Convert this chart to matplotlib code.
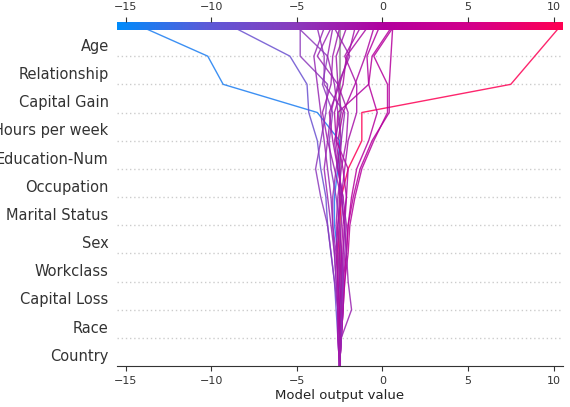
import matplotlib
matplotlib.use("Agg")
import matplotlib.pyplot as plt
import numpy as np
from matplotlib.colors import LinearSegmentedColormap, Normalize

features = ["Country", "Race", "Capital Loss", "Workclass", "Sex", "Marital Status",
            "Occupation", "Education-Num", "Hours per week", "Capital Gain",
            "Relationship", "Age"]
base_value = -2.5

# cumulative model output at each boundary, bottom (base) -> top (final)
paths = [
    [-2.5, -2.5, -2.4, -2.5, -2.6, -2.8, -2.8, -2.6, -2.5, -3.8, -9.3, -10.2, -13.9],
    [-2.5, -2.5, -2.5, -2.6, -2.6, -2.5, -2.4, -2.0, -1.2, -1.2, 7.5, 8.9, 10.3],
    [-2.5, -2.6, -2.7, -2.8, -3.0, -3.2, -3.3, -3.6, -3.8, -4.3, -4.4, -5.4, -8.6],
    [-2.5, -2.4, -2.3, -2.2, -2.1, -2.0, -1.7, -1.3, -0.6, 0.4, 0.4, 0.5, 0.6],
    [-2.5, -2.4, -2.3, -2.2, -2.0, -1.9, -1.6, -1.2, -0.5, 0.3, 0.3, -0.5, 0.6],
    [-2.5, -2.4, -2.3, -2.3, -2.1, -2.0, -1.8, -1.5, -0.8, -0.3, -0.8, -0.6, 0.5],
    [-2.5, -2.5, -2.4, -2.3, -2.3, -2.2, -2.1, -2.0, -2.7, -2.6, -0.8, -0.9, -0.2],
    [-2.5, -2.5, -2.6, -2.8, -3.0, -3.2, -3.6, -3.9, -3.6, -3.3, -3.2, -4.8, -4.8],
    [-2.5, -2.5, -2.6, -2.7, -2.8, -3.0, -3.2, -3.4, -3.2, -3.0, -2.6, -3.8, -3.0],
    [-2.5, -2.5, -2.5, -2.6, -2.7, -2.9, -2.9, -2.7, -2.4, -2.2, -3.4, -3.4, -3.8],
    [-2.5, -2.4, -2.3, -2.3, -2.2, -2.1, -2.3, -2.6, -2.8, -2.4, -2.6, -1.9, -2.8],
    [-2.5, -2.5, -2.4, -2.4, -2.5, -2.6, -2.4, -2.2, -2.0, -1.5, -1.5, -2.2, -1.3],
    [-2.5, -2.6, -2.6, -2.7, -2.8, -2.9, -3.0, -3.2, -3.4, -3.6, -3.8, -4.0, -3.4],
    [-2.5, -2.5, -2.5, -2.6, -2.6, -2.7, -2.6, -2.4, -2.1, -2.0, -2.6, -2.7, -2.1],
    [-2.5, -2.4, -2.4, -2.3, -2.4, -2.5, -2.7, -3.0, -3.1, -2.9, -3.5, -3.2, -4.9],
    [-2.5, -2.5, -2.6, -2.6, -2.7, -2.6, -2.5, -2.5, -2.7, -2.8, -2.3, -2.1, -0.9],
    [-2.5, -2.4, -1.8, -2.0, -2.1, -2.2, -2.4, -2.5, -2.4, -2.6, -2.8, -3.2, -2.9],
    [-2.5, -2.5, -2.5, -2.4, -2.4, -2.3, -2.1, -2.3, -2.6, -2.3, -1.6, -1.0, -0.5],
    [-2.5, -2.6, -2.6, -2.5, -2.5, -2.4, -2.3, -2.6, -2.9, -3.1, -2.5, -2.0, -1.6],
    [-2.5, -2.5, -2.4, -2.4, -2.3, -2.2, -2.4, -2.8, -3.2, -3.5, -3.0, -2.9, -2.5],
]

xlim = (-15.5, 10.55)
cmap = LinearSegmentedColormap.from_list(
    "shap", ["#008bfb", "#5c5ad8", "#8a3bbd", "#b2009e", "#d4008a", "#ff0052"])
norm = Normalize(*xlim)

fig = plt.figure(figsize=(5.7, 4.07), dpi=100)
W, H = 570, 407
ax = fig.add_axes([117 / W, 1 - 366 / H, 446 / W, 338 / H])
cax = fig.add_axes([117 / W, 1 - 30 / H, 446 / W, 8 / H])

n = len(features)
y = np.arange(n + 1)
for i in range(1, n):
    ax.axhline(i, color="#cccccc", lw=1, ls=(0, (1, 2)), zorder=0)
ax.plot([base_value, base_value], [0, n], color="#aaaaaa", lw=1.5, zorder=1)
for p in paths:
    ax.plot(p, y, color=cmap(norm(p[-1])), lw=1, alpha=0.85, zorder=2)

ax.set_xlim(*xlim)
ax.set_ylim(0, n)
ax.set_yticks(np.arange(n) + 0.4)
ax.set_yticklabels(features, fontsize=10.5, color="#333333")
ax.tick_params(axis="y", length=0, pad=6)
ax.tick_params(axis="x", labelsize=8, colors="#333333")
for s in ["top", "left", "right"]:
    ax.spines[s].set_visible(False)
ax.spines["bottom"].set_color("#333333")
ax.set_xlabel("Model output value", fontsize=9.5, color="#222222", labelpad=2)

grad = np.linspace(*xlim, 512)[None, :]
cax.imshow(grad, aspect="auto", cmap=cmap, norm=norm, extent=[xlim[0], xlim[1], 0, 1])
cax.set_xlim(*xlim)
cax.set_yticks([])
cax.xaxis.tick_top()
cax.tick_params(axis="x", labelsize=8, colors="#333333")
for s in cax.spines.values():
    s.set_visible(False)

fig.savefig("out.png", dpi=100)
